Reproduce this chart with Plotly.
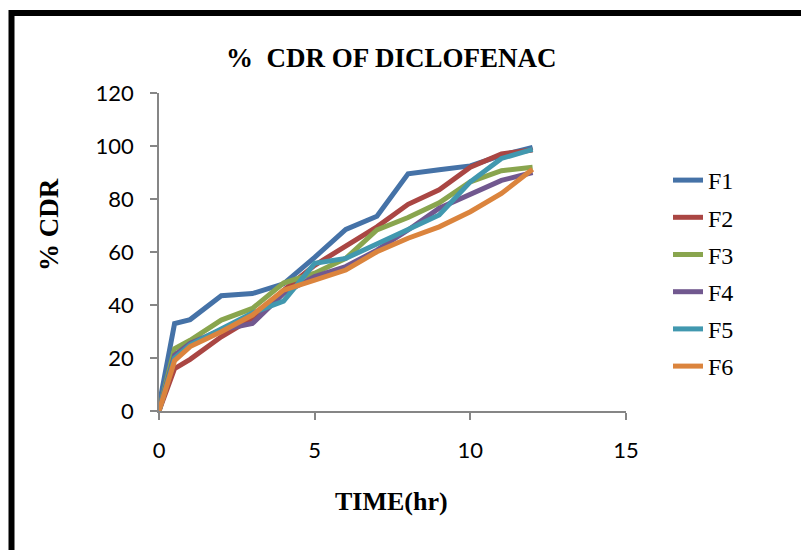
import plotly.graph_objects as go

time_hr = [0, 0.5, 1, 2, 3, 4, 5, 6, 7, 8, 9, 10, 11, 12]
F1 = [2, 33, 34.5, 43.5, 44.3, 48, 58, 68.5, 73.5, 89.5, 91, 92.5, 96.5, 99.5]
F2 = [0, 16, 19.5, 28, 35, 45.5, 55, 62.5, 69.5, 78, 83.5, 92, 97, 98.5]
F3 = [0, 23.5, 26.7, 34.3, 38.7, 48.3, 52, 57.6, 68.3, 73, 78.6, 86.5, 90.7, 92]
F4 = [0, 21, 25.5, 30.6, 33, 44.4, 50.7, 54.5, 60.7, 68.3, 76.5, 82, 87, 90]
F5 = [0, 20, 25, 31, 37, 41.5, 55.7, 57.6, 63.3, 68.5, 74, 86.5, 95.3, 98.7]
F6 = [0, 19, 24.3, 29.9, 36.2, 45.6, 49.4, 53.2, 60.1, 65.2, 69.5, 75.2, 82.1, 91.2]

series = [("F1", F1), ("F2", F2), ("F3", F3), ("F4", F4), ("F5", F5), ("F6", F6)]
colors = ["#4572A7", "#AA4643", "#89A54E", "#71588F", "#4198AF", "#DB843D"]

SERIF = "Liberation Serif, Times New Roman, serif"
SANS = "Lato, Carlito, Calibri, sans-serif"

fig = go.Figure()
for (name, vals), c in zip(series, colors):
    fig.add_trace(go.Scatter(x=time_hr, y=vals, mode="lines", name=name,
                             legendgroup=name,
                             line=dict(color=c, width=5)))

W, H = 801, 550
L, R, T, B = 159, 175, 93, 139
pw, ph = W - L - R, H - T - B

def px_x(p):
    return (p - L) / pw

def px_y(p):
    return (H - B - p) / ph

axis_common = dict(showline=True, linecolor="#868686", linewidth=1.5,
                   ticks="outside", ticklen=7, tickcolor="#868686", tickwidth=1.5,
                   showgrid=False, zeroline=False,
                   tickfont=dict(family=SANS, size=22, color="#000000"))

fig.update_layout(
    width=W, height=H,
    margin=dict(l=L, r=R, t=T, b=B),
    paper_bgcolor="white", plot_bgcolor="white",
    xaxis=dict(range=[0, 15], dtick=5, ticklabelstandoff=12, **axis_common),
    yaxis=dict(range=[0, 120], dtick=20, ticklabelstandoff=12, **axis_common),
    legend=dict(x=px_x(668), y=px_y(158), xanchor="left", yanchor="top",
                font=dict(family=SERIF, size=24, color="#000000"),
                tracegroupgap=3, bgcolor="rgba(0,0,0,0)"),
    annotations=[
        dict(text="<b>%  CDR OF DICLOFENAC</b>", xref="paper", yref="paper",
             x=px_x(391), y=px_y(58), showarrow=False, xanchor="center", yanchor="middle",
             font=dict(family=SERIF, size=27, color="#000000")),
        dict(text="<b>% CDR</b>", xref="paper", yref="paper", textangle=-90,
             x=px_x(49), y=px_y(225), showarrow=False, xanchor="center", yanchor="middle",
             font=dict(family=SERIF, size=27, color="#000000")),
        dict(text="<b>TIME(hr)</b>", xref="paper", yref="paper",
             x=px_x(391), y=px_y(501), showarrow=False, xanchor="center", yanchor="middle",
             font=dict(family=SERIF, size=26, color="#000000")),
    ],
    shapes=[dict(type="rect", xref="paper", yref="paper",
                 x0=px_x(11.5), x1=3, y0=-2, y1=px_y(13),
                 line=dict(color="#000000", width=6), fillcolor="rgba(0,0,0,0)")],
)

fig.write_html("out.html")
